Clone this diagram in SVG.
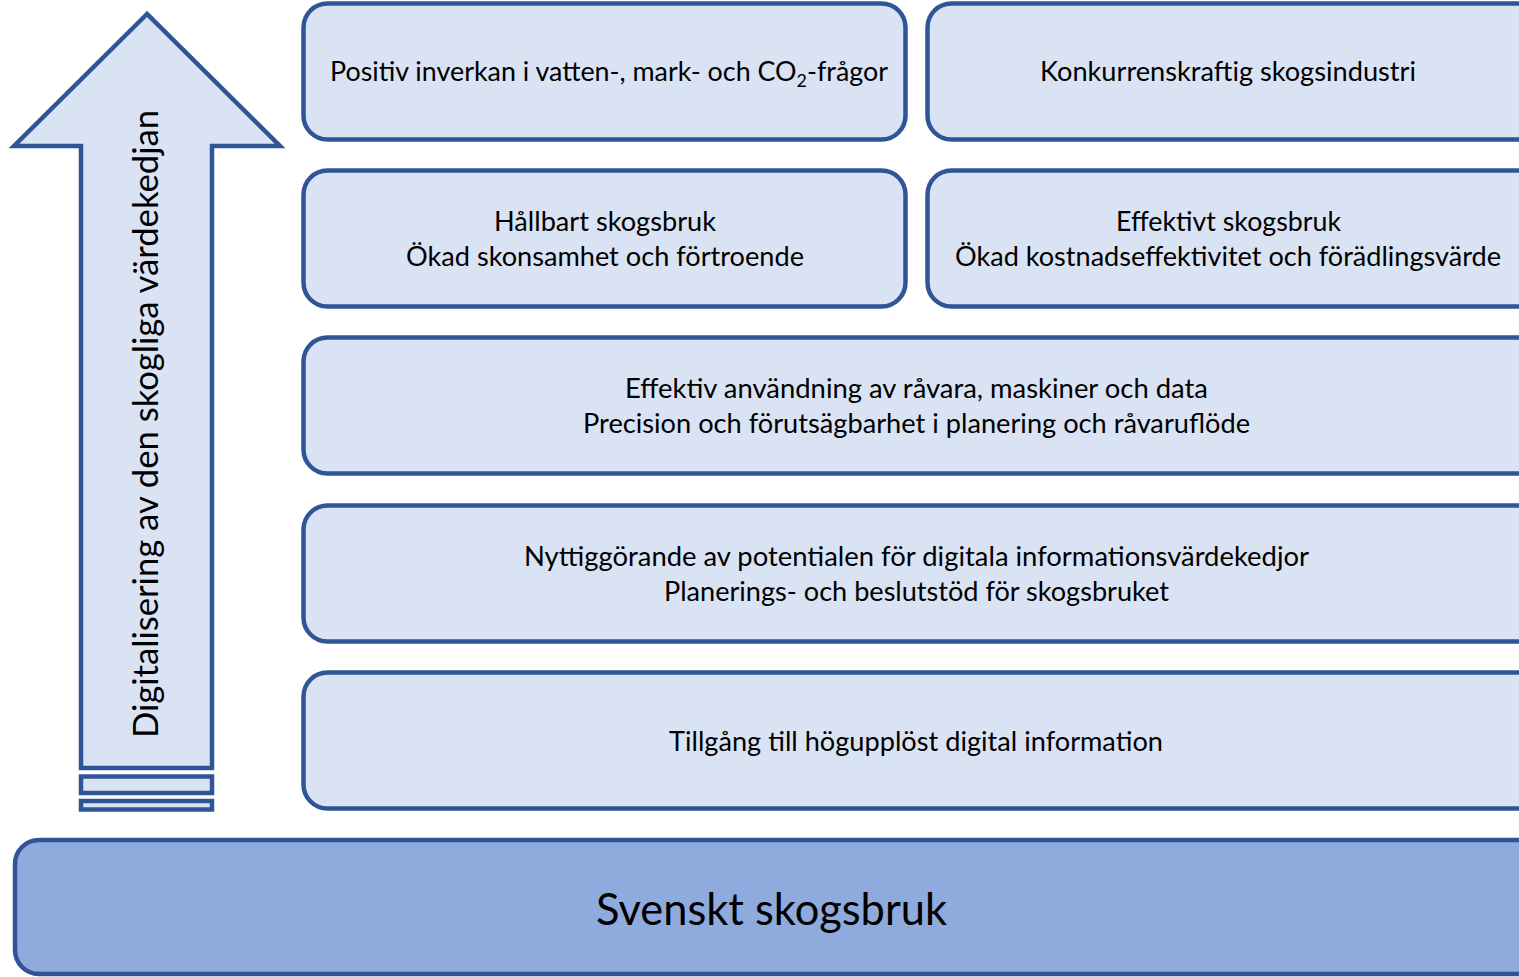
<svg xmlns="http://www.w3.org/2000/svg" width="1519" height="977" viewBox="0 0 1519 977">
<style>
.box{fill:#DAE3F3;stroke:#2F5597;stroke-width:4.5}
.base{fill:#8FAADC;stroke:#2F5597;stroke-width:4.5}
.t{font-family:Lato,"Open Sans",sans-serif;font-size:27px;fill:#000;text-anchor:middle}
.v{font-family:Lato,"Open Sans",sans-serif;font-size:34px;fill:#000;text-anchor:middle}
.big{font-family:Lato,"Open Sans",sans-serif;font-size:44px;fill:#000;text-anchor:middle}
</style>
<rect width="1519" height="977" fill="#fff"/>
<g id="arrow">
<path class="box" d="M147,14 L14,146 L81,146 L81,768 L212,768 L212,146 L280,146 Z"/>
<rect class="box" x="81" y="776.5" width="131" height="16.5"/>
<rect class="box" x="81" y="801" width="131" height="8.5"/>
<text class="v" transform="translate(158,424) rotate(-90)" textLength="628" lengthAdjust="spacingAndGlyphs">Digitalisering av den skogliga värdekedjan</text>
</g>
<g id="n1">
<rect class="box" x="303.5" y="3.5" width="602" height="136" rx="24"/>
<text class="t" x="609" y="81" textLength="558" lengthAdjust="spacingAndGlyphs">Positiv inverkan i vatten-, mark- och CO<tspan font-size="18" dy="6">2</tspan><tspan dy="-6">-frågor</tspan></text>
</g>
<g id="n2">
<rect class="box" x="927.5" y="3.5" width="620" height="136" rx="24"/>
<text class="t" x="1228" y="81" textLength="376" lengthAdjust="spacingAndGlyphs">Konkurrenskraftig skogsindustri</text>
</g>
<g id="n3">
<rect class="box" x="303.5" y="170.5" width="602" height="136" rx="24"/>
<text class="t" x="605" y="231" textLength="222" lengthAdjust="spacingAndGlyphs">Hållbart skogsbruk</text>
<text class="t" x="605" y="266" textLength="398" lengthAdjust="spacingAndGlyphs">Ökad skonsamhet och förtroende</text>
</g>
<g id="n4">
<rect class="box" x="927.5" y="170.5" width="620" height="136" rx="24"/>
<text class="t" x="1228.5" y="231" textLength="225" lengthAdjust="spacingAndGlyphs">Effektivt skogsbruk</text>
<text class="t" x="1228" y="266" textLength="546" lengthAdjust="spacingAndGlyphs">Ökad kostnadseffektivitet och förädlingsvärde</text>
</g>
<g id="n5">
<rect class="box" x="303.5" y="337.5" width="1250" height="136" rx="24"/>
<text class="t" x="916.5" y="398" textLength="583" lengthAdjust="spacingAndGlyphs">Effektiv användning av råvara, maskiner och data</text>
<text class="t" x="916.5" y="433" textLength="667" lengthAdjust="spacingAndGlyphs">Precision och förutsägbarhet i planering och råvaruflöde</text>
</g>
<g id="n6">
<rect class="box" x="303.5" y="505.5" width="1250" height="136" rx="24"/>
<text class="t" x="916.5" y="566" textLength="785" lengthAdjust="spacingAndGlyphs">Nyttiggörande av potentialen för digitala informationsvärdekedjor</text>
<text class="t" x="916.5" y="601" textLength="505" lengthAdjust="spacingAndGlyphs">Planerings- och beslutstöd för skogsbruket</text>
</g>
<g id="n7">
<rect class="box" x="303.5" y="672.5" width="1250" height="136" rx="24"/>
<text class="t" x="916" y="751" textLength="494" lengthAdjust="spacingAndGlyphs">Tillgång till högupplöst digital information</text>
</g>
<g id="n8">
<rect class="base" x="15" y="840" width="1540" height="134" rx="24"/>
<text class="big" x="771.5" y="925" textLength="351" lengthAdjust="spacingAndGlyphs">Svenskt skogsbruk</text>
</g>
<g id="connectors"></g>
</svg>
